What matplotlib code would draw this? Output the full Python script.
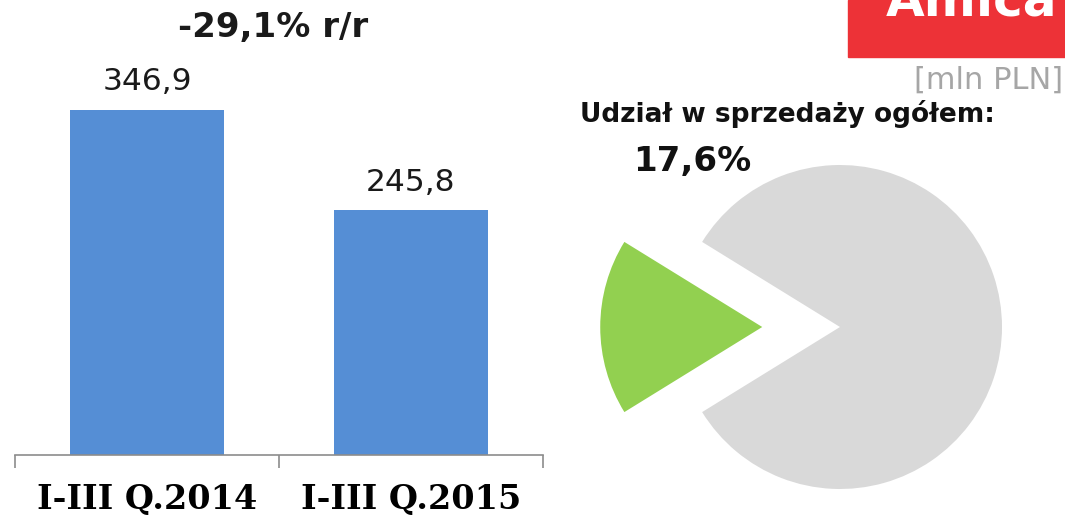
import matplotlib
matplotlib.use("Agg")
import matplotlib.pyplot as plt
from matplotlib.patches import Rectangle

categories = ["I-III Q.2014", "I-III Q.2015"]
values = [346.9, 245.8]
value_labels = ["346,9", "245,8"]
share_values = [17.6, 82.4]
title_text = "-29,1% r/r"
share_title = "Udział w sprzedaży ogółem:"
share_label = "17,6%"
unit_text = "[mln PLN]"
logo_text = "Amica"

W, H = 1065, 515
fig = plt.figure(figsize=(W / 100, H / 100), dpi=100)

def px_box(x0, y0_top, w, h):
    return [x0 / W, (H - y0_top - h) / H, w / W, h / H]

# Bar chart
ax = fig.add_axes(px_box(15, 57, 528, 398))
x = range(len(categories))
ax.bar(x, values, width=0.587, color="#558ED5")
ax.set_xlim(-0.5, 1.5)
ax.set_ylim(0, 400)
for s in ["top", "right", "left"]:
    ax.spines[s].set_visible(False)
ax.spines["bottom"].set_color("#8C8C8C")
ax.spines["bottom"].set_linewidth(1.2)
ax.set_yticks([])
ax.set_xticks(list(x))
ax.set_xticklabels(categories, fontfamily="DejaVu Serif", fontweight="bold", fontsize=24)
ax.tick_params(axis="x", which="major", length=0, pad=20)
ax.set_xticks([-0.5, 0.5, 1.5], minor=True)
ax.tick_params(axis="x", which="minor", length=9, color="#8C8C8C", width=1.2)
for xi, v, lab in zip(x, values, value_labels):
    ax.annotate(lab, (xi, v), xytext=(0, 10), textcoords="offset points",
                ha="center", va="bottom", fontsize=22.5, color="#1a1a1a")

fig.text(273 / W, 1 - 27 / H, title_text, ha="center", va="center",
         fontsize=24.5, fontweight="bold", color="#1a1a1a")

# Pie chart
ax2 = fig.add_axes(px_box(590, 160, 420, 340))
start = 180 - share_values[0] / 100 * 360 / 2
ax2.pie(share_values, colors=["#92D050", "#D9D9D9"], explode=[0.48, 0],
        startangle=start, radius=1, wedgeprops=dict(linewidth=0))
ax2.set_aspect("auto")
ax2.set_xlim(-(840 - 590) / 162, (1010 - 840) / 162)
ax2.set_ylim(-(500 - 327) / 162, (327 - 160) / 162)
ax2.axis("off")

fig.text(580 / W, 1 - 114 / H, share_title, ha="left", va="center",
         fontsize=19, fontweight="bold", color="#111111")
fig.text(633 / W, 1 - 161 / H, share_label, ha="left", va="center",
         fontsize=24.5, fontweight="bold", color="#111111")

# Logo box
fig.patches.append(Rectangle((848 / W, 1 - 57 / H), (W - 848) / W, 57 / H,
                             transform=fig.transFigure, color="#ED3237", zorder=0))
fig.text(972 / W, 1 - 16 / H, logo_text, ha="center", va="baseline",
         fontsize=36, fontweight="bold", color="white")

fig.text(1063 / W, 1 - 80 / H, unit_text, ha="right", va="center",
         fontsize=22, color="#A6A6A6")

fig.savefig("out.png", dpi=100)
